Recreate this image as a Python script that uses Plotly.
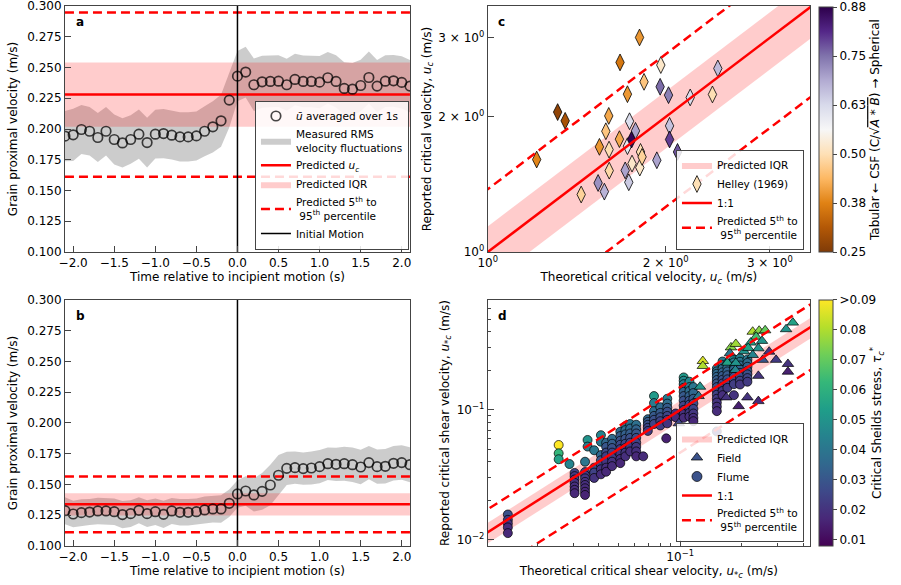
import plotly.graph_objects as go
import plotly.express as px

# ---------------- Data: panels a & b ----------------
time_s = [-2.1, -2.0, -1.9, -1.8, -1.7, -1.6, -1.5, -1.4, -1.3, -1.2, -1.1, -1.0, -0.9, -0.8,
          -0.7, -0.6, -0.5, -0.4, -0.3, -0.2, -0.1, 0.0, 0.1, 0.2, 0.3, 0.4, 0.5, 0.6, 0.7,
          0.8, 0.9, 1.0, 1.1, 1.2, 1.3, 1.4, 1.5, 1.6, 1.7, 1.8, 1.9, 2.0, 2.1]
time_ticks = [-2.0, -1.5, -1.0, -0.5, 0.0, 0.5, 1.0, 1.5, 2.0]
vel_ticks = [0.100, 0.125, 0.150, 0.175, 0.200, 0.225, 0.250, 0.275, 0.300]

u_mean_a = [0.1942, 0.1953, 0.1996, 0.1982, 0.1931, 0.1982, 0.1915, 0.1887, 0.1915, 0.1958,
            0.1890, 0.1958, 0.1963, 0.1950, 0.1936, 0.1936, 0.1944, 0.1982, 0.2018, 0.2067,
            0.2235, 0.2430, 0.2463, 0.2360, 0.2384, 0.2387, 0.2389, 0.2360, 0.2403, 0.2387,
            0.2387, 0.2381, 0.2417, 0.2387, 0.2330, 0.2324, 0.2354, 0.2419, 0.2349, 0.2389,
            0.2392, 0.2379, 0.2349]
u_rms_a = [0.0204, 0.0212, 0.0200, 0.0197, 0.0200, 0.0197, 0.0204, 0.0200, 0.0198, 0.0200,
           0.0202, 0.0198, 0.0200, 0.0198, 0.0200, 0.0200, 0.0199, 0.0204, 0.0208, 0.0212,
           0.0222, 0.0205, 0.0206, 0.0214, 0.0212, 0.0210, 0.0210, 0.0212, 0.0210, 0.0210,
           0.0210, 0.0212, 0.0210, 0.0212, 0.0212, 0.0212, 0.0210, 0.0212, 0.0212, 0.0210,
           0.0210, 0.0212, 0.0212]
uc_a, iqr_lo_a, iqr_hi_a, p5_a, p95_a = 0.2281, 0.2018, 0.2541, 0.1611, 0.2948

u_mean_b = [0.1287, 0.1260, 0.1271, 0.1276, 0.1285, 0.1285, 0.1279, 0.1255, 0.1263, 0.1290,
            0.1263, 0.1279, 0.1257, 0.1285, 0.1274, 0.1274, 0.1279, 0.1293, 0.1301, 0.1301,
            0.1347, 0.1423, 0.1447, 0.1415, 0.1444, 0.1496, 0.1575, 0.1631, 0.1637, 0.1629,
            0.1634, 0.1645, 0.1669, 0.1664, 0.1669, 0.1661, 0.1642, 0.1678, 0.1645, 0.1648,
            0.1672, 0.1678, 0.1661]
u_rms_b = [0.0110, 0.0108, 0.0108, 0.0106, 0.0108, 0.0108, 0.0108, 0.0110, 0.0108, 0.0106,
           0.0108, 0.0108, 0.0110, 0.0106, 0.0108, 0.0108, 0.0108, 0.0110, 0.0110, 0.0112,
           0.0112, 0.0112, 0.0120, 0.0135, 0.0150, 0.0165, 0.0165, 0.0135, 0.0132, 0.0132,
           0.0135, 0.0135, 0.0132, 0.0135, 0.0138, 0.0140, 0.0140, 0.0135, 0.0140, 0.0140,
           0.0140, 0.0140, 0.0142]
uc_b, iqr_lo_b, iqr_hi_b, p5_b, p95_b = 0.1339, 0.1247, 0.1428, 0.1111, 0.1564

# ---------------- Data: panel c (Helley 1969) ----------------
helley_x = [1.21, 1.313, 1.352, 1.439, 1.537, 1.575, 1.545, 1.584, 1.602, 1.604, 1.605, 1.67,
            1.674, 1.708, 1.723, 1.723, 1.732, 1.737, 1.751, 1.754, 1.778, 1.806, 1.808, 1.813,
            1.824, 1.838, 1.932, 1.957, 1.962, 2.022, 2.03, 2.03, 2.094, 2.2, 2.399, 2.45]
helley_y = [1.607, 2.05, 1.96, 1.343, 1.425, 1.363, 1.715, 1.858, 2.01, 1.691, 1.518, 1.784,
            2.645, 1.52, 2.247, 1.721, 1.43, 1.956, 1.78, 1.574, 1.862, 3.006, 1.542, 1.671,
            1.629, 2.394, 1.601, 2.334, 2.609, 2.236, 1.91, 1.781, 1.671, 2.21, 2.244, 2.564]
helley_csf = [0.38, 0.27, 0.30, 0.48, 0.72, 0.68, 0.40, 0.46, 0.42, 0.50, 0.49, 0.42, 0.36,
              0.70, 0.40, 0.60, 0.65, 0.62, 0.87, 0.52, 0.70, 0.40, 0.52, 0.50, 0.48, 0.46,
              0.70, 0.76, 0.52, 0.74, 0.66, 0.80, 0.78, 0.62, 0.50, 0.67]
c_iqr_ratio = (0.85, 1.14)
c_pct_ratio = (0.63, 1.38)
c_line_x = [0.9, 4.0]
csf_ticks = [0.25, 0.376, 0.502, 0.628, 0.754, 0.88]
csf_ticklabels = ["0.25", "0.38", "0.50", "0.63", "0.75", "0.88"]

# ---------------- Data: panel d ----------------
flume_col_x = [0.0144, 0.0255, 0.0288, 0.0305, 0.0343, 0.0353, 0.038, 0.041, 0.0435, 0.0465,
               0.051, 0.054, 0.057, 0.061, 0.066, 0.0695, 0.0745, 0.080, 0.0855, 0.0865,
               0.095, 0.104, 0.111, 0.116, 0.151, 0.161, 0.170, 0.183, 0.196, 0.213]
flume_col_y = [
    [0.0157, 0.0143, 0.0134, 0.0125, 0.0113],
    [0.0538, 0.0464, 0.0418],
    [0.0384],
    [0.0328, 0.031, 0.0292, 0.0275, 0.0258, 0.0243, 0.0229],
    [0.040, 0.0333, 0.0315, 0.0298, 0.028, 0.0265, 0.025, 0.0235, 0.0222],
    [0.0588, 0.0523],
    [0.049, 0.036, 0.033, 0.030],
    [0.064, 0.057, 0.045, 0.041, 0.038, 0.035, 0.032],
    [0.056, 0.052, 0.047, 0.044, 0.040, 0.036, 0.0335],
    [0.060, 0.055, 0.051, 0.047, 0.043, 0.040, 0.037],
    [0.068, 0.063, 0.058, 0.054, 0.050, 0.046, 0.042, 0.039],
    [0.075, 0.070, 0.065, 0.060, 0.055, 0.051, 0.047, 0.044],
    [0.078, 0.072, 0.066, 0.061, 0.056, 0.052, 0.048],
    [0.077, 0.071, 0.066, 0.061, 0.056, 0.052, 0.048, 0.044],
    [0.044],
    [0.085, 0.081, 0.077, 0.073, 0.069],
    [0.128, 0.113, 0.098, 0.090, 0.084, 0.078],
    [0.105, 0.095, 0.088, 0.082, 0.076],
    [0.0605],
    [0.122, 0.112, 0.104, 0.097, 0.090, 0.084, 0.079],
    [0.094, 0.088],
    [0.178, 0.168, 0.158, 0.148, 0.138, 0.128, 0.118, 0.108, 0.100, 0.093, 0.087],
    [0.165, 0.150, 0.140, 0.128, 0.118, 0.110, 0.102, 0.095, 0.089],
    [0.150, 0.135, 0.122, 0.112, 0.102, 0.094, 0.087, 0.082],
    [0.208, 0.198, 0.190, 0.180, 0.170, 0.160, 0.150, 0.140, 0.131, 0.122, 0.114, 0.106, 0.098, 0.0684],
    [0.236, 0.222, 0.208, 0.195, 0.183, 0.171, 0.160, 0.150, 0.140, 0.130],
    [0.228, 0.212, 0.198, 0.185, 0.172, 0.160, 0.148],
    [0.245, 0.232, 0.218, 0.205, 0.192, 0.180, 0.168, 0.158, 0.130],
    [0.250, 0.235, 0.220, 0.206, 0.193, 0.180, 0.168, 0.157],
    [0.245, 0.230, 0.215, 0.200, 0.188, 0.176, 0.165],
]
flume_col_tau = [
    [0.028, 0.022, 0.020, 0.018, 0.017],
    [0.092, 0.062, 0.055],
    [0.045],
    [0.024, 0.022, 0.021, 0.020, 0.019, 0.018, 0.017],
    [0.040, 0.024, 0.022, 0.021, 0.020, 0.019, 0.018, 0.017, 0.016],
    [0.050, 0.043],
    [0.040, 0.028, 0.024, 0.020],
    [0.045, 0.040, 0.035, 0.030, 0.025, 0.020, 0.018],
    [0.035, 0.030, 0.026, 0.023, 0.021, 0.019, 0.017],
    [0.036, 0.032, 0.028, 0.025, 0.022, 0.020, 0.018],
    [0.036, 0.032, 0.029, 0.026, 0.023, 0.021, 0.019, 0.017],
    [0.042, 0.037, 0.033, 0.029, 0.026, 0.023, 0.021, 0.019],
    [0.040, 0.036, 0.032, 0.028, 0.025, 0.022, 0.019],
    [0.038, 0.034, 0.030, 0.027, 0.024, 0.021, 0.019, 0.017],
    [0.018],
    [0.035, 0.031, 0.028, 0.025, 0.022],
    [0.052, 0.042, 0.036, 0.031, 0.028, 0.025],
    [0.036, 0.031, 0.028, 0.025, 0.022],
    [0.015],
    [0.042, 0.037, 0.032, 0.028, 0.025, 0.022, 0.020],
    [0.020, 0.018],
    [0.052, 0.047, 0.042, 0.038, 0.034, 0.031, 0.028, 0.025, 0.022, 0.020, 0.018],
    [0.046, 0.041, 0.037, 0.033, 0.029, 0.026, 0.023, 0.021, 0.019],
    [0.040, 0.035, 0.031, 0.027, 0.024, 0.021, 0.019, 0.017],
    [0.040, 0.038, 0.036, 0.034, 0.032, 0.030, 0.028, 0.026, 0.024, 0.022, 0.020, 0.019, 0.018, 0.020],
    [0.042, 0.040, 0.037, 0.034, 0.031, 0.028, 0.025, 0.023, 0.021, 0.019],
    [0.040, 0.037, 0.034, 0.031, 0.028, 0.025, 0.022],
    [0.045, 0.042, 0.038, 0.035, 0.032, 0.029, 0.026, 0.023, 0.020],
    [0.044, 0.040, 0.036, 0.033, 0.030, 0.027, 0.024, 0.021],
    [0.040, 0.037, 0.034, 0.031, 0.028, 0.025, 0.022],
]
field_x = [0.0985, 0.125, 0.123, 0.129, 0.129, 0.177, 0.187, 0.170, 0.187, 0.175, 0.186, 0.168,
           0.193, 0.213, 0.241, 0.226, 0.243, 0.260, 0.235, 0.221, 0.251, 0.241, 0.226, 0.253,
           0.272, 0.294, 0.329, 0.355, 0.336, 0.336, 0.241, 0.205, 0.215]
field_y = [0.079, 0.151, 0.128, 0.238, 0.218, 0.303, 0.322, 0.231, 0.230, 0.273, 0.203, 0.125,
           0.107, 0.125, 0.117, 0.400, 0.407, 0.410, 0.366, 0.330, 0.340, 0.298, 0.265, 0.243,
           0.281, 0.243, 0.418, 0.470, 0.226, 0.197, 0.183, 0.283, 0.300]
field_tau = [0.025, 0.050, 0.040, 0.085, 0.080, 0.075, 0.078, 0.055, 0.050, 0.040, 0.045, 0.020,
             0.015, 0.020, 0.018, 0.080, 0.075, 0.070, 0.065, 0.055, 0.050, 0.050, 0.045, 0.030,
             0.020, 0.022, 0.050, 0.055, 0.020, 0.015, 0.020, 0.050, 0.055]
d_iqr_ratio = (0.82, 1.18)
d_pct_ratio = (0.47, 1.50)
d_line_x = [0.009, 0.6]
tau_ticks = [0.01, 0.02, 0.03, 0.04, 0.05, 0.06, 0.07, 0.08, 0.09]
tau_ticklabels = ["0.01", "0.02", "0.03", "0.04", "0.05", "0.06", "0.07", "0.08", ">0.09"]

# ---------------- Styling ----------------
FONT = "DejaVu Sans"
RED = "#ff0000"
BAND_RED = "rgba(255,0,0,0.2)"
AX = "#444444"
DASH = "9px,5px"

fig = go.Figure()


def time_panel(xa, ya, mean, rms, uc, lo, hi, p5, p95, show):
    lg = "legend"
    upper = [m + r for m, r in zip(mean, rms)]
    lower = [m - r for m, r in zip(mean, rms)]
    fig.add_trace(go.Scatter(
        x=time_s + time_s[::-1], y=upper + lower[::-1], fill="toself",
        fillcolor="rgba(128,128,128,0.4)", line=dict(width=0), mode="lines",
        name="Measured RMS<br>velocity fluctuations", xaxis=xa, yaxis=ya,
        showlegend=show, legend=lg, legendrank=2, hoverinfo="skip"))
    fig.add_trace(go.Scatter(
        x=[-2.1, 2.1, 2.1, -2.1], y=[lo, lo, hi, hi], fill="toself",
        fillcolor=BAND_RED, line=dict(width=0), mode="lines",
        name="Predicted IQR", xaxis=xa, yaxis=ya,
        showlegend=show, legend=lg, legendrank=4))
    fig.add_trace(go.Scatter(
        x=[-2.1, 2.1], y=[uc, uc], mode="lines", line=dict(color=RED, width=2.5),
        name="Predicted <i>u<sub>c</sub></i>", xaxis=xa, yaxis=ya,
        showlegend=show, legend=lg, legendrank=3))
    for i, v in enumerate([p5, p95]):
        fig.add_trace(go.Scatter(
            x=[-2.1, 2.1], y=[v, v], mode="lines",
            line=dict(color=RED, width=2.5, dash=DASH),
            name="Predicted 5<sup>th</sup> to<br> 95<sup>th</sup> percentile",
            xaxis=xa, yaxis=ya, showlegend=(show and i == 0), legend=lg, legendrank=5))
    fig.add_trace(go.Scatter(
        x=[0, 0], y=[0.1, 0.3], mode="lines", line=dict(color="black", width=1.5),
        name="Initial Motion", xaxis=xa, yaxis=ya,
        showlegend=show, legend=lg, legendrank=6))
    fig.add_trace(go.Scatter(
        x=time_s, y=mean, mode="markers",
        marker=dict(symbol="circle-open", size=9.5, color="rgba(0,0,0,0.72)",
                    line=dict(width=1.7, color="rgba(0,0,0,0.72)")),
        name="<i>ū</i> averaged over 1s", xaxis=xa, yaxis=ya,
        showlegend=show, legend=lg, legendrank=1))


time_panel("x", "y", u_mean_a, u_rms_a, uc_a, iqr_lo_a, iqr_hi_a, p5_a, p95_a, True)
time_panel("x2", "y2", u_mean_b, u_rms_b, uc_b, iqr_lo_b, iqr_hi_b, p5_b, p95_b, False)


def ratio_panel(xa, ya, lg, line_x, iqr, pct):
    x0, x1 = line_x
    fig.add_trace(go.Scatter(
        x=[x0, x1, x1, x0], y=[x0 * iqr[0], x1 * iqr[0], x1 * iqr[1], x0 * iqr[1]],
        fill="toself", fillcolor=BAND_RED, line=dict(width=0), mode="lines",
        name="Predicted IQR", xaxis=xa, yaxis=ya, legend=lg, legendrank=1))
    fig.add_trace(go.Scatter(
        x=line_x, y=line_x, mode="lines", line=dict(color=RED, width=2.5),
        name="1:1", xaxis=xa, yaxis=ya, legend=lg, legendrank=4))
    for i, r in enumerate(pct):
        fig.add_trace(go.Scatter(
            x=line_x, y=[v * r for v in line_x], mode="lines",
            line=dict(color=RED, width=2.5, dash=DASH),
            name="Predicted 5<sup>th</sup> to<br> 95<sup>th</sup> percentile",
            xaxis=xa, yaxis=ya, legend=lg, legendrank=5, showlegend=(i == 0)))


# panel c
ratio_panel("x3", "y3", "legend2", c_line_x, c_iqr_ratio, c_pct_ratio)
puor = px.colors.diverging.PuOr
fig.add_trace(go.Scatter(
    x=helley_x, y=helley_y, mode="markers", xaxis="x3", yaxis="y3",
    marker=dict(symbol="diamond-tall", size=12, color=helley_csf, colorscale=puor,
                cmin=0.25, cmax=0.88, line=dict(color="black", width=0.8),
                colorbar=dict(x=0.909, xanchor="left", y=0.988, yanchor="top",
                              len=0.419, lenmode="fraction", thickness=14, xpad=0, ypad=0,
                              outlinewidth=1, outlinecolor=AX, ticks="outside", ticklen=4,
                              tickcolor=AX, tickvals=csf_ticks, ticktext=csf_ticklabels,
                              tickfont=dict(size=12, family=FONT),
                              title=dict(text="Tabular \u2190 CSF (C/\u221a<span style='text-decoration:overline'><i>A</i> * <i>B</i></span>) \u2192 Spherical",
                                         side="right", font=dict(size=12, family=FONT)))),
    showlegend=False))
fig.add_trace(go.Scatter(
    x=[None], y=[None], mode="markers", xaxis="x3", yaxis="y3",
    marker=dict(symbol="diamond-tall", size=12, color="rgb(254,224,182)",
                line=dict(color="black", width=0.8)),
    name="Helley (1969)", legend="legend2", legendrank=2))

# panel d
ratio_panel("x4", "y4", "legend3", d_line_x, d_iqr_ratio, d_pct_ratio)
flume_x, flume_y, flume_tau = [], [], []
for cx, cys, cts in zip(flume_col_x, flume_col_y, flume_col_tau):
    for yv, tv in zip(cys, cts):
        flume_x.append(cx)
        flume_y.append(yv)
        flume_tau.append(tv)
tau_cbar = dict(x=0.909, xanchor="left", y=0.4872, yanchor="top", len=0.4205,
                lenmode="fraction", thickness=14, xpad=0, ypad=0, outlinewidth=1,
                outlinecolor=AX, ticks="outside", ticklen=4, tickcolor=AX,
                tickvals=tau_ticks, ticktext=tau_ticklabels,
                tickfont=dict(size=12, family=FONT),
                title=dict(text="Critical Sheilds stress, <i>\u03c4<sub>c</sub><sup>*</sup></i>",
                           side="right", font=dict(size=12, family=FONT)))
fig.add_trace(go.Scatter(
    x=flume_x, y=flume_y, mode="markers", xaxis="x4", yaxis="y4",
    marker=dict(symbol="circle", size=9, color=flume_tau, colorscale="Viridis",
                cmin=0.0078, cmax=0.09, line=dict(color="black", width=0.7),
                colorbar=tau_cbar),
    showlegend=False))
fig.add_trace(go.Scatter(
    x=field_x, y=field_y, mode="markers", xaxis="x4", yaxis="y4",
    marker=dict(symbol="triangle-up", size=10, color=field_tau, colorscale="Viridis",
                cmin=0.0078, cmax=0.09, line=dict(color="black", width=0.7),
                showscale=False),
    showlegend=False))
for nm, sym, rk in [("Field", "triangle-up", 2), ("Flume", "circle", 3)]:
    fig.add_trace(go.Scatter(
        x=[None], y=[None], mode="markers", xaxis="x4", yaxis="y4",
        marker=dict(symbol=sym, size=10, color="rgb(59,82,139)",
                    line=dict(color="black", width=0.7)),
        name=nm, legend="legend3", legendrank=rk))

# draw the red reference lines of c and d above the markers
line_traces = [t for t in fig.data if t.mode == "lines" and t.xaxis in ("x3", "x4")
               and t.fill is None]
other = [t for t in fig.data if t not in line_traces]
fig.data = tuple(other) + tuple(line_traces)

# ---------------- Layout ----------------
XL, XR = [0.0721, 0.4550], [0.5413, 0.8990]
YT, YB = [0.5692, 0.9897], [0.0667, 0.4872]
base_ax = dict(showgrid=False, zeroline=False, showline=True, linecolor=AX, linewidth=1,
               mirror=True, ticks="inside", ticklen=6, tickwidth=1, tickcolor=AX,
               tickfont=dict(size=12, family=FONT, color="black"), automargin=False,
               ticklabeloverflow="allow")
title_font = dict(size=12, family=FONT, color="black")

lin_x = dict(base_ax, range=[-2.1, 2.1], tickmode="array", tickvals=time_ticks,
             tickformat=".1f")
lin_y = dict(base_ax, range=[0.1, 0.3], tickmode="array", tickvals=vel_ticks,
             tickformat=".3f")
minor_ax = dict(ticks="inside", ticklen=3, tickcolor=AX, tickwidth=1, showgrid=False)

fig.update_layout(
    width=901, height=585, margin=dict(l=0, r=0, t=0, b=0),
    paper_bgcolor="white", plot_bgcolor="white", template="none",
    font=dict(family=FONT, size=12, color="black"),
    xaxis=dict(lin_x, domain=XL, anchor="y",
               title=dict(text="Time relative to incipient motion (s)", font=title_font, standoff=0)),
    yaxis=dict(lin_y, domain=YT, anchor="x",
               title=dict(text="Grain proximal velocity (m/s)", font=title_font, standoff=6)),
    xaxis2=dict(lin_x, domain=XL, anchor="y2",
                title=dict(text="Time relative to incipient motion (s)", font=title_font, standoff=0)),
    yaxis2=dict(lin_y, domain=YB, anchor="x2",
                title=dict(text="Grain proximal velocity (m/s)", font=title_font, standoff=6)),
    xaxis3=dict(base_ax, domain=XR, anchor="y3", type="log", range=[0, 0.545],
                tickvals=[1, 2, 3],
                ticktext=["10<sup>0</sup>", "2 \u00d7 10<sup>0</sup>", "3 \u00d7 10<sup>0</sup>"],
                title=dict(text="Theoretical critical velocity, <i>u<sub>c</sub></i> (m/s)",
                           font=title_font, standoff=2)),
    yaxis3=dict(base_ax, domain=YT, anchor="x3", type="log", range=[0, 0.548],
                tickvals=[1, 2, 3],
                ticktext=["10<sup>0</sup>", "2 \u00d7 10<sup>0</sup>", "3 \u00d7 10<sup>0</sup>"],
                title=dict(text="Reported critical velocity, <i>u<sub>c</sub></i> (m/s)",
                           font=title_font, standoff=4)),
    xaxis4=dict(base_ax, domain=XR, anchor="y4", type="log", range=[-1.94, -0.366],
                tickvals=[0.1], ticktext=["10<sup>\u22121</sup>"],
                minor=dict(minor_ax, tickmode="array",
                           tickvals=[0.02, 0.03, 0.04, 0.05, 0.06, 0.07, 0.08, 0.09, 0.2, 0.3, 0.4]),
                title=dict(text="Theoretical critical shear velocity, <i>u<sub>*c</sub></i> (m/s)",
                           font=title_font, standoff=2)),
    yaxis4=dict(base_ax, domain=YB, anchor="x4", type="log", range=[-2.046, -0.154],
                tickvals=[0.01, 0.1], ticktext=["10<sup>\u22122</sup>", "10<sup>\u22121</sup>"],
                minor=dict(minor_ax, tickmode="array",
                           tickvals=[0.02, 0.03, 0.04, 0.05, 0.06, 0.07, 0.08, 0.09,
                                     0.2, 0.3, 0.4, 0.5, 0.6, 0.7]),
                title=dict(text="Reported critical shear velocity, <i>u<sub>*c</sub></i> (m/s)",
                           font=title_font, standoff=4)),
)

leg_common = dict(bgcolor="rgba(255,255,255,0.85)", bordercolor=AX, borderwidth=1,
                  font=dict(size=10.5, family=FONT), tracegroupgap=0, itemwidth=30,
                  traceorder="normal")
fig.update_layout(
    legend=dict(leg_common, x=0.4539, xanchor="right", y=0.5735, yanchor="bottom"),
    legend2=dict(leg_common, x=0.8923, xanchor="right", y=0.5735, yanchor="bottom"),
    legend3=dict(leg_common, x=0.8923, xanchor="right", y=0.0735, yanchor="bottom"),
)

for lbl, xr, yr in [("a", "x domain", "y domain"), ("b", "x2 domain", "y2 domain"),
                    ("c", "x3 domain", "y3 domain"), ("d", "x4 domain", "y4 domain")]:
    fig.add_annotation(text=f"<b>{lbl}</b>", xref=xr, yref=yr, x=0.025, y=0.97,
                       xanchor="left", yanchor="top", showarrow=False,
                       font=dict(size=12, family=FONT, color="black"))

fig.write_html("out.html")
